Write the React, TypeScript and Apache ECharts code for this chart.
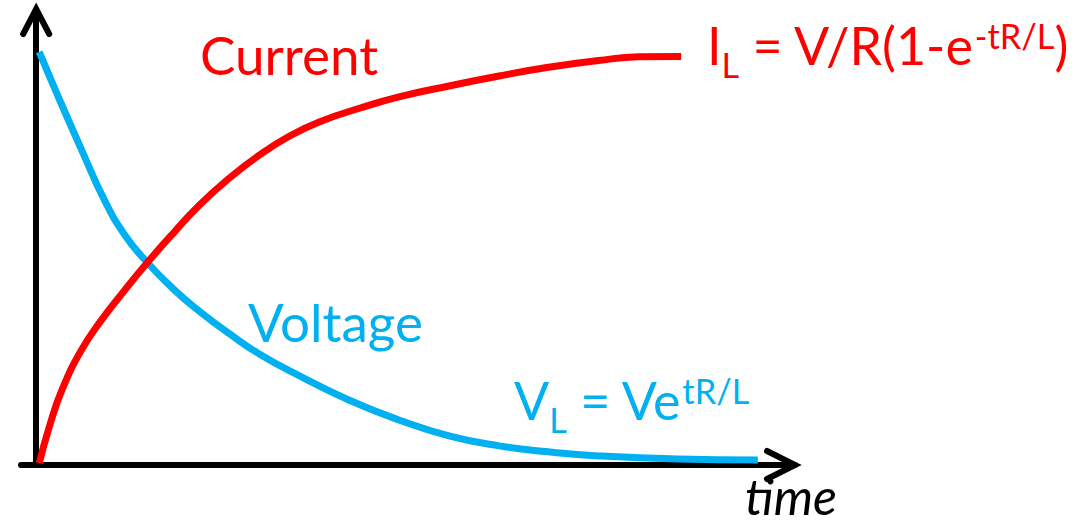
import React, { useEffect, useRef } from "react";
import * as echarts from "echarts";

// ---- data (time units 0..100, value units 0..100) ----
const currentX = [0.4, 1.8, 3.4, 5.8, 8.4, 11.7, 14.6, 18.2, 21.5, 25.5, 29.4, 33.4, 37.3, 42.6, 47.8, 54.4, 61.0, 67.5, 74.1, 79.4, 85.0];
const currentY = [0.4, 8.8, 16.5, 24.8, 31.4, 38.5, 44.4, 51.2, 57.1, 63.1, 68.1, 72.3, 75.4, 78.4, 80.9, 83.3, 85.5, 87.4, 88.9, 89.7, 89.8];
const voltageX = [0.4, 3.1, 6.0, 9.0, 11.7, 14.7, 18.2, 21.5, 25.5, 29.4, 34.7, 41.2, 47.8, 54.4, 61.0, 67.5, 74.1, 84.6, 95.1];
const voltageY = [90.8, 80.2, 69.2, 58.2, 50.5, 44.4, 38.5, 33.8, 28.8, 24.4, 19.6, 14.3, 9.9, 6.4, 4.2, 2.9, 2.0, 1.3, 1.1];
const xRange = [-2, 100];
const yRange = [0, 100];

// ---- texts ----
const currentLabel = "Current";
const voltageLabel = "Voltage";
const timeLabel = "time";
// [text, kind] kind: m = main, sub = subscript, sup = superscript
const currentFormula: [string, string][] = [["I", "m"], ["L", "sub"], [" = V/R(1-e", "m"], ["-tR/L", "sup"], [")", "m"]];
const voltageFormula: [string, string][] = [["V", "m"], ["L", "sub"], [" = Ve", "m"], ["tR/L", "sup"]];

const RED = "#FF0000";
const BLUE = "#00B0F0";
const FONT = "Lato";

function measure(text: string, size: number, italic = false) {
  const ctx = document.createElement("canvas").getContext("2d")!;
  ctx.font = `${italic ? "italic " : ""}${size}px ${FONT}`;
  const m: any = ctx.measureText(text);
  const asc = m.fontBoundingBoxAscent ?? size * 0.9;
  const desc = m.fontBoundingBoxDescent ?? size * 0.2;
  return { w: m.width, mid: (asc - desc) / 2 };
}

function textEl(text: string, x: number, baseline: number, size: number, color: string, italic = false) {
  const m = measure(text, size, italic);
  const style: any = {
    text,
    fontSize: size,
    fontFamily: FONT,
    fontStyle: italic ? "italic" : "normal",
    fill: color,
    align: "left",
    textAlign: "left",
    verticalAlign: "middle",
    textVerticalAlign: "middle",
  };
  return {
    el: { type: "text", x, y: baseline - m.mid, silent: true, style },
    w: m.w,
  };
}

function run(segs: [string, string][], x0: number, baseline: number, main: number, color: string) {
  const out: any[] = [];
  let x = x0;
  const small = main * 0.66;
  for (const [t, kind] of segs) {
    const size = kind === "m" ? main : small;
    const dy = kind === "sub" ? 13 : kind === "sup" ? -16 : 0;
    const r = textEl(t, x, baseline + dy, size, color);
    out.push(r.el);
    x += r.w;
  }
  return out;
}

export default function App() {
  const ref = useRef<HTMLDivElement>(null);
  useEffect(() => {
    if (!ref.current) return;
    const chart = echarts.init(ref.current, null, { renderer: "svg" });
    const axisCommon = {
      type: "value" as const,
      axisTick: { show: false },
      axisLabel: { show: false },
      splitLine: { show: false },
    };
    chart.setOption({
      animation: false,
      backgroundColor: "#ffffff",
      grid: { left: 21, right: 296, top: 10, bottom: 62, containLabel: false, outerBoundsMode: "none" },
      xAxis: {
        ...axisCommon,
        min: xRange[0],
        max: xRange[1],
        axisLine: { show: true, onZero: true, lineStyle: { color: "#000", width: 6 } },
      },
      yAxis: {
        ...axisCommon,
        min: yRange[0],
        max: yRange[1],
        axisLine: { show: true, onZero: true, lineStyle: { color: "#000", width: 6 } },
      },
      series: [
        {
          type: "line",
          data: voltageX.map((x, i) => [x, voltageY[i]]),
          smooth: 0.5,
          showSymbol: false,
          symbol: "none",
          lineStyle: { color: BLUE, width: 7 },
          z: 3,
        },
        {
          type: "line",
          data: currentX.map((x, i) => [x, currentY[i]]),
          smooth: 0.5,
          showSymbol: false,
          symbol: "none",
          lineStyle: { color: RED, width: 7 },
          z: 4,
        },
      ],
    });

    const xEnd = chart.convertToPixel({ xAxisIndex: 0, yAxisIndex: 0 }, [xRange[1], 0]) as number[];
    const yEnd = chart.convertToPixel({ xAxisIndex: 0, yAxisIndex: 0 }, [0, yRange[1]]) as number[];
    const arrowStyle = { stroke: "#000", lineWidth: 6, lineCap: "round", lineJoin: "miter", fill: "none" };

    const graphics: any[] = [
      {
        type: "polyline",
        silent: true,
        shape: { points: [[xEnd[0] - 28, xEnd[1] - 14], [xEnd[0], xEnd[1]], [xEnd[0] - 28, xEnd[1] + 14]] },
        style: arrowStyle,
        z: 10,
      },
      {
        type: "polyline",
        silent: true,
        shape: { points: [[yEnd[0] - 13, yEnd[1] + 24], [yEnd[0], yEnd[1] - 1], [yEnd[0] + 13, yEnd[1] + 24]] },
        style: arrowStyle,
        z: 10,
      },
      textEl(currentLabel, 200, 75, 53, RED).el,
      textEl(voltageLabel, 248, 342, 53, BLUE).el,
      textEl(timeLabel, 745, 515, 50, "#000", true).el,
      ...run(currentFormula, 707, 65, 52, RED),
      ...run(voltageFormula, 514, 420, 52, BLUE),
    ];
    chart.setOption({ graphic: graphics });

    return () => chart.dispose();
  }, []);
  return (
    <div
      ref={ref}
      style={{ position: "absolute", left: 0, top: 0, width: 1091, height: 527, background: "#fff" }}
    />
  );
}
